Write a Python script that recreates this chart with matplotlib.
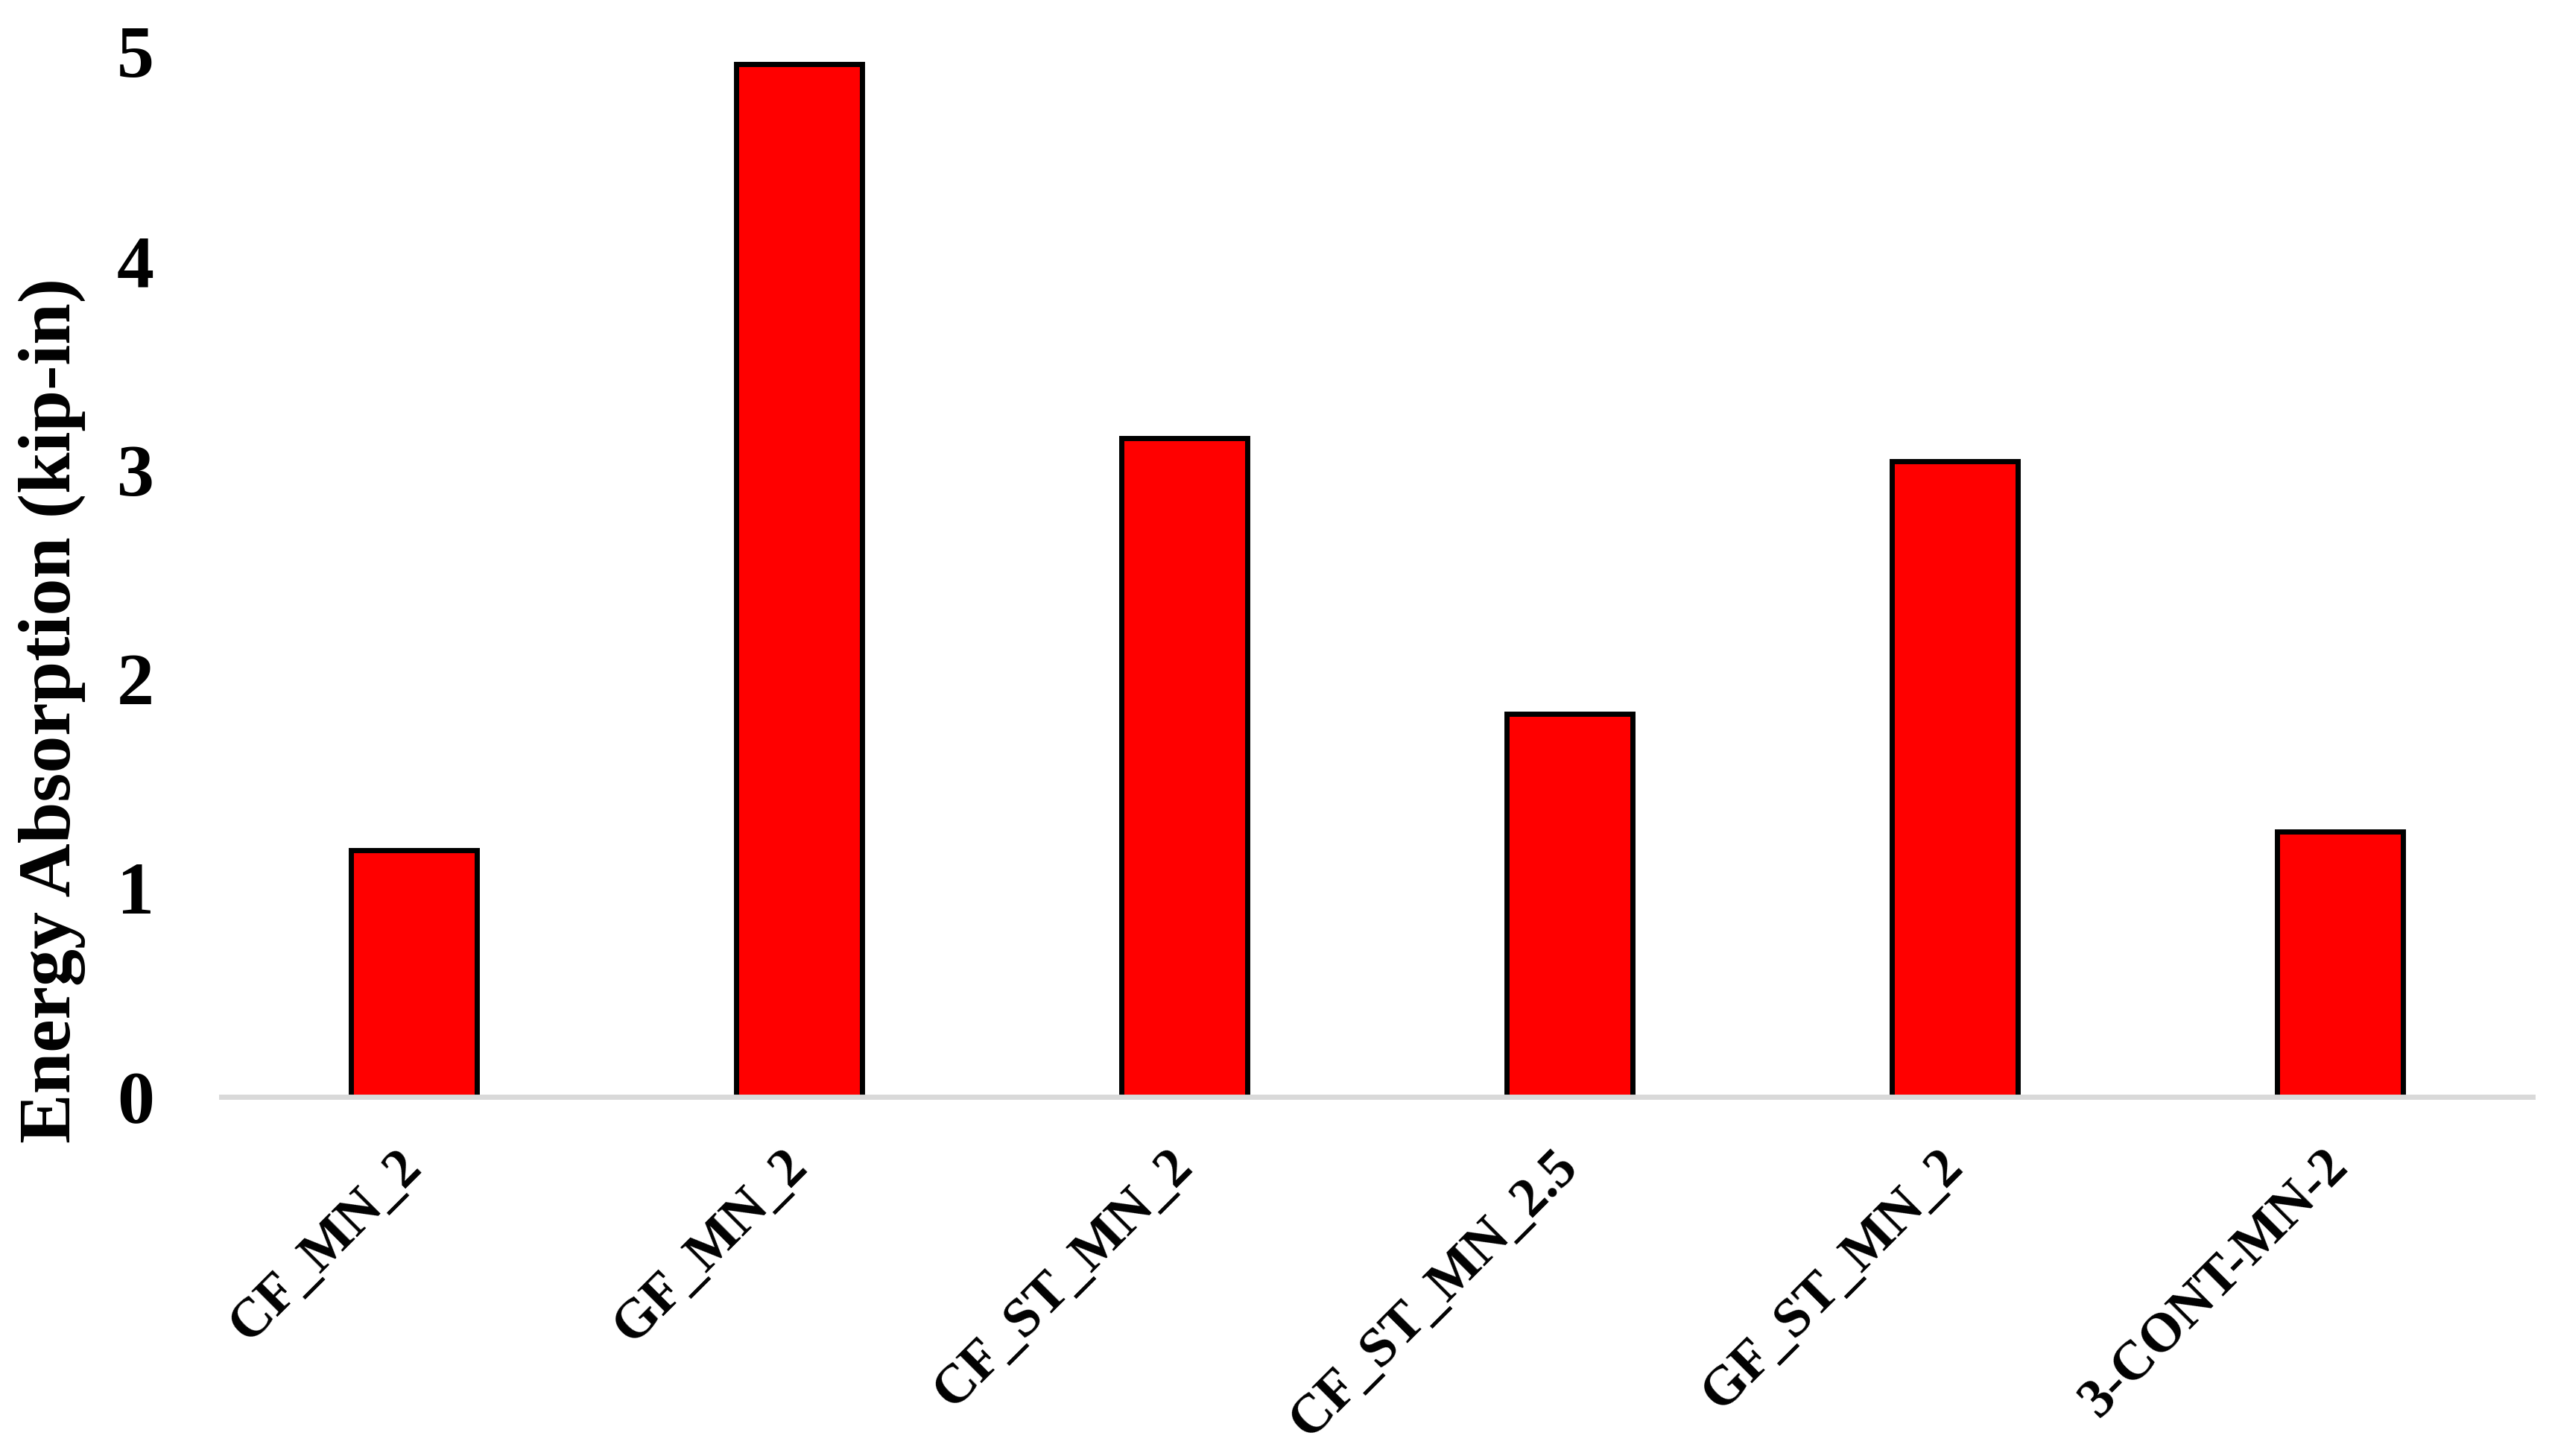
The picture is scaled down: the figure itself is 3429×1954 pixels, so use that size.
import numpy as np
import matplotlib
matplotlib.use("Agg")
import matplotlib.pyplot as plt

# specimen names and energy absorbed (kip-in)
specimens = ["CF_MN_2", "GF_MN_2", "CF_ST_MN_2", "CF_ST_MN_2.5",
             "GF_ST_MN_2", "3-CONT-MN-2"]
energy = [1.18, 4.94, 3.15, 1.83, 3.04, 1.27]
y_ticks = [0, 1, 2, 3, 4, 5]

plt.rcParams["font.family"] = ["Liberation Serif", "DejaVu Serif"]
plt.rcParams["font.weight"] = "bold"

fig = plt.figure(figsize=(34.3, 19.54), dpi=100)
ax = fig.add_axes([0.0866, 0.2467, 0.9044, 0.718])

x = np.arange(len(specimens))
ax.bar(x, energy, width=0.327, color="#FF0000", edgecolor="black",
       linewidth=5, zorder=1)

ax.set_xlim(-0.5, len(specimens) - 0.5)
ax.set_ylim(0, 5)
ax.set_yticks(y_ticks)
ax.set_yticklabels([str(t) for t in y_ticks], fontsize=72, fontweight="bold")
ax.set_xticks(x)
ax.set_xticklabels(specimens, fontsize=53, fontweight="bold", rotation=45,
                   ha="right", va="center", rotation_mode="anchor")

ax.tick_params(axis="y", length=0, pad=65)
ax.tick_params(axis="x", length=0, pad=60)

for side in ["top", "right", "left"]:
    ax.spines[side].set_visible(False)
ax.spines["bottom"].set_color("#D9D9D9")
ax.spines["bottom"].set_linewidth(5)

fig.text(70 / 3430, 1 - 953 / 1954, "Energy Absorption (kip-in)",
         rotation=90, ha="center", va="center", fontsize=72,
         fontweight="bold")

fig.savefig("out.png", dpi=100)
